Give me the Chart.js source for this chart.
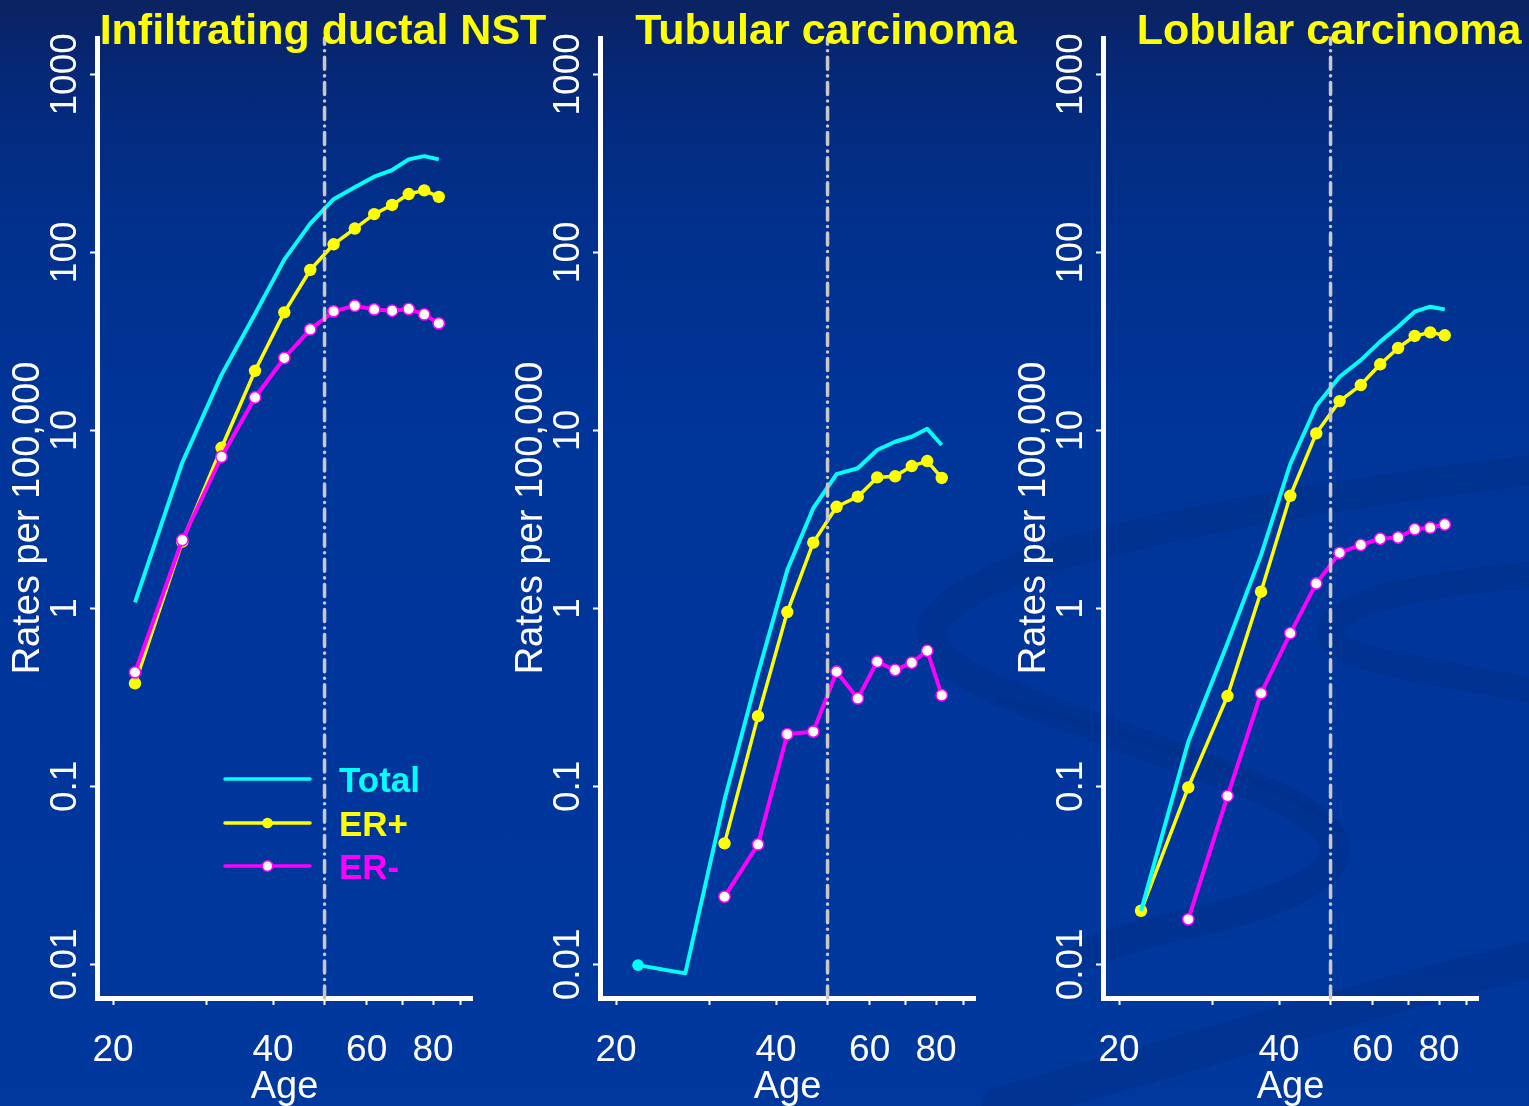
<!DOCTYPE html>
<html>
<head>
<meta charset="utf-8">
<script src="https://cdn.jsdelivr.net/npm/chart.js@4.4.1/dist/chart.umd.min.js"></script>
<style>
html, body { margin: 0; padding: 0; }
body {
  width: 1529px; height: 1106px; overflow: hidden; position: relative;
  background: linear-gradient(to bottom, #0a2261 0%, #05297a 8%, #01308c 20%, #00359a 40%, #00389e 100%);
}
svg.bg, canvas { position: absolute; left: 0; top: 0; }
</style>
</head>
<body>
<svg class="bg" width="1529" height="1106" viewBox="0 0 1529 1106">
  <g fill="none" stroke="#002f88" stroke-opacity="0.55" stroke-linecap="round">
    <path d="M1529 470 C1250 505 990 550 935 620 C905 680 1080 715 1250 785 C1390 840 1350 890 1180 925 C1120 940 1095 950 1085 955" stroke-width="30"/>
    <path d="M1529 575 C1420 585 1340 600 1330 630 C1325 660 1430 670 1529 690" stroke-width="26"/>
    <path d="M1000 1106 C1200 1050 1380 995 1529 960" stroke-width="38"/>
    <path d="M1000 700 C1150 740 1280 780 1340 830" stroke-width="6"/>
  </g>
</svg>
<canvas id="c0" width="1529" height="1106"></canvas>
<canvas id="c1" width="1529" height="1106"></canvas>
<canvas id="c2" width="1529" height="1106"></canvas>
<script>
// ---------- data ----------
const ages = [22, 27, 32, 37, 42, 47, 52, 57, 62, 67, 72, 77, 82];
const xTickValues = [20, 30, 40, 50, 60, 70, 80, 90];
const xTickLabels = [20, 40, 60, 80];
const yTickValues = [0.01, 0.1, 1, 10, 100, 1000];
const yTickLabels = ['0.01', '0.1', '1', '10', '100', '1000'];
const cutoffAge = 50;
const panelTitles = ['Infiltrating ductal NST', 'Tubular carcinoma', 'Lobular carcinoma'];
const seriesNames = ['Total', 'ER+', 'ER-'];

const ductalTotal = [1.08, 6.6, 20.5, 45, 91, 145, 199, 232, 266, 290, 333, 347, 333];
const ductalERpos = [0.379, 2.37, 7.98, 21.6, 46, 79.6, 111, 136, 164, 184.5, 212.6, 223, 205];
const ductalERneg = [0.437, 2.42, 7.11, 15.3, 25.5, 36.9, 46.6, 50.1, 47.8, 47.0, 48.0, 44.8, 39.9];

const tubularTotal = [0.0099, 0.0089, 0.084, 0.43, 1.64, 3.65, 5.68, 6.12, 7.75, 8.63, 9.2, 10.2, 8.27];
const tubularERpos = [null, null, 0.0478, 0.248, 0.953, 2.34, 3.72, 4.24, 5.44, 5.52, 6.30, 6.72, 5.40];
const tubularERneg = [null, null, 0.0240, 0.0472, 0.196, 0.203, 0.440, 0.312, 0.501, 0.450, 0.495, 0.578, 0.325];

const lobularTotal = [0.020, 0.178, 0.636, 1.99, 6.47, 13.7, 20.0, 24.8, 31.5, 38.2, 46.4, 49.5, 47.8];
const lobularERpos = [0.020, 0.0987, 0.3217, 1.24, 4.29, 9.62, 14.6, 17.97, 23.5, 29.0, 33.9, 35.5, 34.2];
const lobularERneg = [null, 0.0179, 0.0882, 0.333, 0.724, 1.38, 2.05, 2.27, 2.46, 2.50, 2.78, 2.84, 2.96];

// ---------- layout / style ----------
const W = 1529, H = 1106;
const panelOffsets = [0, 503, 1006];
const plotLeft = 97, plotRight = 472, plotTop = 38, plotBottom = 998;
const xMin = 18.66, xMax = 94.7, yMin = 0.00647, yMax = 1600;
const COL_TOTAL = '#00ffff', COL_POS = '#ffff00', COL_NEG = '#ff00ff';
const FONT = "'Liberation Sans', Arial, Helvetica, sans-serif";

Chart.defaults.font.family = FONT;

function toPoints(vals) {
  const pts = [];
  ages.forEach((a, i) => { if (vals[i] !== null) pts.push({ x: a, y: vals[i] }); });
  return pts;
}

const titlePlugin = {
  id: 'panelTitle',
  afterDraw(chart, args, opts) {
    const ctx = chart.ctx;
    ctx.save();
    ctx.font = 'bold 43px ' + FONT;
    ctx.fillStyle = '#ffff00';
    ctx.textAlign = 'center';
    ctx.textBaseline = 'alphabetic';
    ctx.fillText(opts.text, opts.cx, 44);
    ctx.restore();
  }
};

const legendPlugin = {
  id: 'panelLegend',
  afterDraw(chart, args, opts) {
    if (!opts.show) return;
    const ctx = chart.ctx;
    const items = [
      { label: seriesNames[0], color: COL_TOTAL, marker: null },
      { label: seriesNames[1], color: COL_POS, marker: COL_POS },
      { label: seriesNames[2], color: COL_NEG, marker: '#ffffff' }
    ];
    const ys = [779, 823, 866];
    ctx.save();
    items.forEach((it, i) => {
      const y = ys[i];
      ctx.strokeStyle = it.color;
      ctx.lineWidth = 3.5;
      ctx.lineCap = 'round';
      ctx.beginPath(); ctx.moveTo(225, y); ctx.lineTo(310, y); ctx.stroke();
      if (it.marker) {
        ctx.beginPath(); ctx.arc(267.5, y, 5.3, 0, Math.PI * 2);
        ctx.fillStyle = it.marker; ctx.fill();
        if (it.marker === '#ffffff') { ctx.lineWidth = 1.5; ctx.strokeStyle = COL_NEG; ctx.stroke(); }
      }
      ctx.font = 'bold 35px ' + FONT;
      ctx.fillStyle = it.color;
      ctx.textAlign = 'left';
      ctx.textBaseline = 'alphabetic';
      ctx.fillText(it.label, 339, y + 12.5);
    });
    ctx.restore();
  }
};

function makePanel(idx, total, erPos, erNeg) {
  const off = panelOffsets[idx];
  const cfg = {
    type: 'line',
    data: {
      datasets: [
        {
          label: 'cutoff',
          data: [{ x: cutoffAge, y: yMin }, { x: cutoffAge, y: yMax }],
          borderColor: '#c8c8c8', borderWidth: 3.5, borderDash: [12, 6.5, 0.1, 6.5],
          borderCapStyle: 'round', pointRadius: 0, clip: false
        },
        {
          label: seriesNames[2], data: toPoints(erNeg),
          borderColor: COL_NEG, borderWidth: 4,
          pointRadius: 5.7, pointBackgroundColor: '#ffffff', pointBorderColor: COL_NEG, pointBorderWidth: 1.5
        },
        {
          label: seriesNames[0], data: toPoints(total),
          borderColor: COL_TOTAL, borderWidth: 4,
          pointRadius: (c) => (idx === 1 && c.dataIndex === 0) ? 5.8 : 0,
          pointBackgroundColor: COL_TOTAL, pointBorderWidth: 0
        },
        {
          label: seriesNames[1], data: toPoints(erPos),
          borderColor: COL_POS, borderWidth: 3.5,
          pointRadius: 6.2, pointBackgroundColor: COL_POS, pointBorderWidth: 0
        }
      ]
    },
    options: {
      responsive: false, animation: false, events: [],
      layout: { padding: { left: off, right: W - (off + plotRight), top: plotTop, bottom: 0 } },
      elements: { line: { tension: 0, borderJoinStyle: 'round' } },
      plugins: {
        legend: { display: false }, tooltip: { enabled: false },
        panelTitle: { text: panelTitles[idx], cx: off + 323 },
        panelLegend: { show: idx === 0 }
      },
      scales: {
        x: {
          type: 'logarithmic', min: xMin, max: xMax,
          afterBuildTicks: (s) => { s.ticks = xTickValues.map(v => ({ value: v })); },
          afterFit: (s) => { s.height = H - plotBottom; },
          ticks: {
            autoSkip: false, maxRotation: 0, minRotation: 0, padding: 24,
            color: '#ffffff', font: { size: 37 },
            callback: (v) => xTickLabels.includes(v) ? String(v) : ''
          },
          grid: { drawOnChartArea: false, drawTicks: true, tickLength: 7, tickWidth: 2, tickColor: '#ffffff' },
          border: { display: true, color: '#ffffff', width: 5 },
          title: { display: true, text: 'Age', color: '#ffffff', font: { size: 38 }, padding: { top: 0, bottom: -4 } }
        },
        y: {
          type: 'logarithmic', min: yMin, max: yMax,
          afterBuildTicks: (s) => { s.ticks = yTickValues.map(v => ({ value: v })); },
          afterFit: (s) => { s.width = plotLeft; },
          ticks: {
            autoSkip: false, minRotation: 90, maxRotation: 90, crossAlign: 'center', padding: -17,
            color: '#ffffff', font: { size: 37 },
            callback: (v) => { const k = yTickValues.findIndex(t => Math.abs(t - v) / t < 1e-6); return k >= 0 ? yTickLabels[k] : ''; }
          },
          grid: { drawOnChartArea: false, drawTicks: true, tickLength: 7, tickWidth: 2, tickColor: '#ffffff' },
          border: { display: true, color: '#ffffff', width: 5 },
          title: { display: true, text: 'Rates per 100,000', color: '#ffffff', font: { size: 38 }, padding: { top: 6, bottom: 0 } }
        }
      }
    },
    plugins: [titlePlugin, legendPlugin]
  };
  return new Chart(document.getElementById('c' + idx), cfg);
}

makePanel(0, ductalTotal, ductalERpos, ductalERneg);
makePanel(1, tubularTotal, tubularERpos, tubularERneg);
makePanel(2, lobularTotal, lobularERpos, lobularERneg);
</script>
</body>
</html>
